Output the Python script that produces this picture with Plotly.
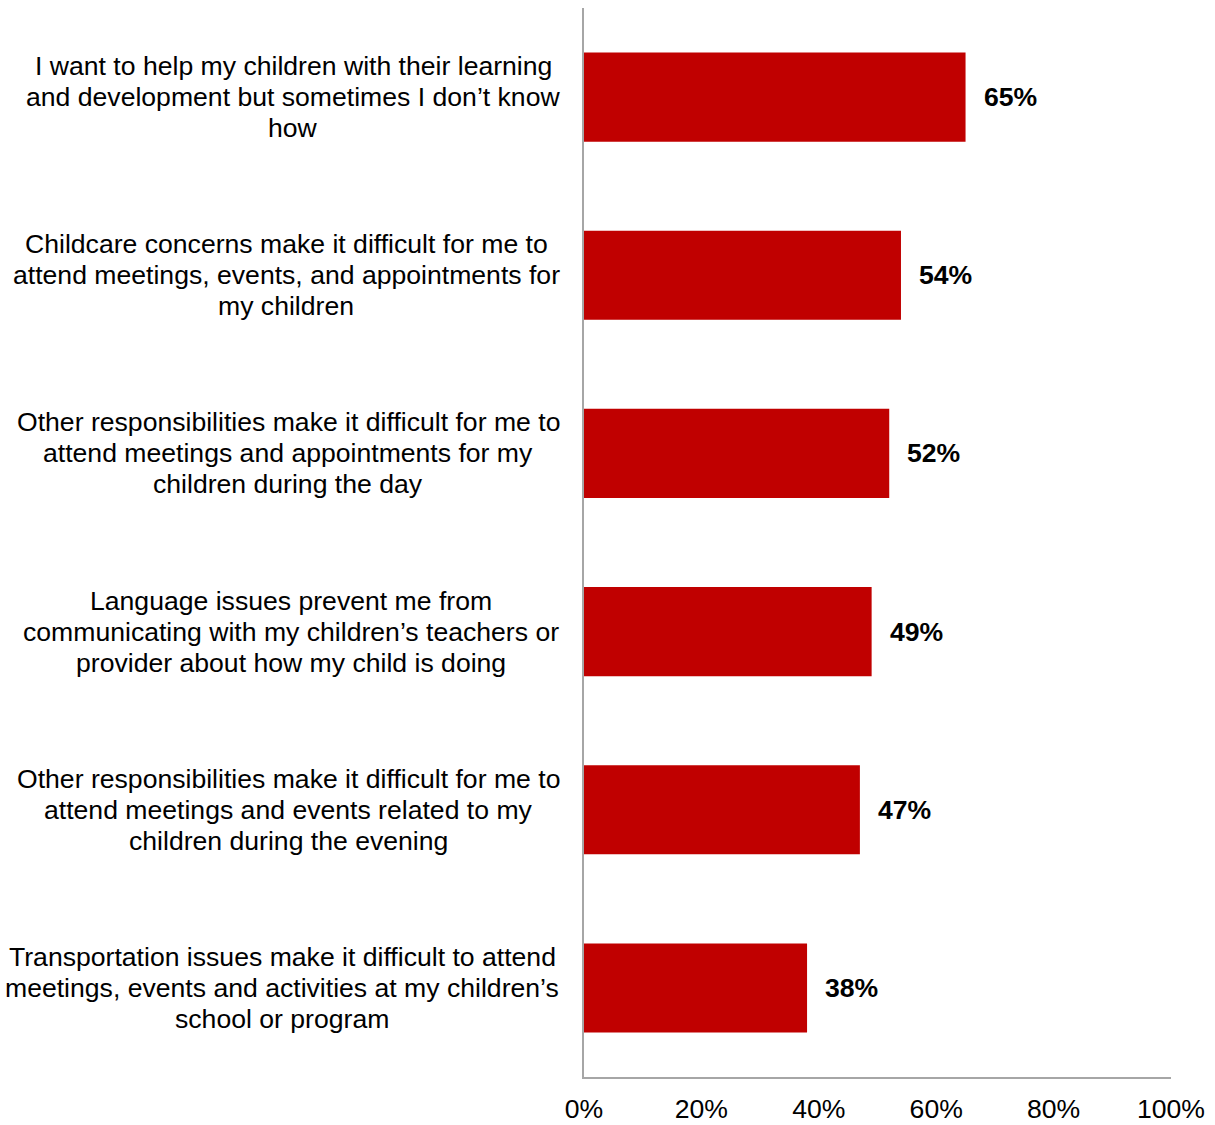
import plotly.graph_objects as go

categories = [
    "I want to help my children with their learning<br>and development but sometimes I don’t know<br>how",
    "Childcare concerns make it difficult for me to<br>attend meetings, events, and appointments for<br>my children",
    "Other responsibilities make it difficult for me to<br>attend meetings and appointments for my<br>children during the day",
    "Language issues prevent me from<br>communicating with my children’s teachers or<br>provider about how my child is doing",
    "Other responsibilities make it difficult for me to<br>attend meetings and events related to my<br>children during the evening",
    "Transportation issues make it difficult to attend<br>meetings, events and activities at my children’s<br>school or program",
]
values = [65, 54, 52, 49, 47, 38]
tick_values = [0, 20, 40, 60, 80, 100]
tick_labels = ["0%", "20%", "40%", "60%", "80%", "100%"]

FONT = "Liberation Sans, Arial, sans-serif"
FONT_SIZE = 26.6
AXIS_GRAY = "#A6A6A6"
LINE_STEP = 31          # px between wrapped label lines
# horizontal centre of each wrapped category label, px left of the y axis
LABEL_CENTRE_OFFSET = [291, 298, 296, 293, 296, 302]

fig = go.Figure(
    go.Bar(
        x=values,
        y=list(range(len(categories))),
        orientation="h",
        marker=dict(color="#C00000", line=dict(width=0)),
        hoverinfo="skip",
    )
)

annotations = []
for i, (cat, v) in enumerate(zip(categories, values)):
    lines = cat.split("<br>")
    mid = (len(lines) - 1) / 2
    for k, line in enumerate(lines):
        annotations.append(dict(
            x=0, xref="paper", y=i, yref="y",
            text=line, showarrow=False, xanchor="center", yanchor="middle",
            xshift=-LABEL_CENTRE_OFFSET[i], yshift=(mid - k) * LINE_STEP,
            font=dict(family=FONT, size=FONT_SIZE, color="#000000"),
        ))
    # value label to the right of each bar
    annotations.append(dict(
        x=v, xref="x", y=i, yref="y",
        text=f"<b>{v}%</b>", showarrow=False, xanchor="left", yanchor="middle",
        xshift=16,
        font=dict(family=FONT, size=FONT_SIZE, color="#000000"),
    ))

fig.update_layout(
    width=1215, height=1125,
    margin=dict(l=584, r=44, t=8, b=48),
    paper_bgcolor="white", plot_bgcolor="white",
    bargap=0.5,
    showlegend=False,
    annotations=annotations,
    xaxis=dict(
        range=[0, 100], automargin=False,
        tickvals=tick_values, ticktext=tick_labels,
        showgrid=False, zeroline=False,
        showline=True, linecolor=AXIS_GRAY, linewidth=2,
        ticks="", ticklabelstandoff=7,
        tickfont=dict(family=FONT, size=FONT_SIZE, color="#000000"),
    ),
    yaxis=dict(
        range=[len(categories) - 0.5, -0.5], automargin=False,
        showticklabels=False, showgrid=False, zeroline=False,
        showline=True, linecolor=AXIS_GRAY, linewidth=2,
        ticks="",
    ),
)

fig.write_html("out.html")
